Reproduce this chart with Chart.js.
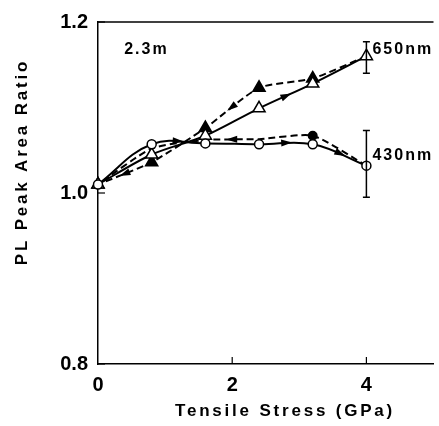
<!DOCTYPE html>
<html>
<head>
<meta charset="utf-8">
<script src="https://cdn.jsdelivr.net/npm/chart.js@4.4.0/dist/chart.umd.min.js"></script>
<style>
html, body { margin: 0; padding: 0; background: #fff; overflow: hidden; }
#wrap { width: 442px; height: 426px; }
</style>
</head>
<body>
<div id="wrap"><canvas id="chart" width="442" height="426"></canvas></div>
<script>
// tensile stress steps (GPa), loading then unloading
var stressUp = [0, 0.8, 1.6, 2.4, 3.2, 4.0];
var stressDown = [4.0, 3.2, 2.4, 1.6, 0.8, 0];

// 650nm peak: loading (open triangles) / unloading (filled triangles)
var r650Up = [1.010, 1.045, 1.067, 1.099, 1.128, 1.160];
var r650Down = [1.160, 1.134, 1.123, 1.076, 1.036, 1.010];

// 430nm peak: loading (open circles) / unloading (dashed, filled circle at 3.2)
var r430Up = [1.010, 1.057, 1.058, 1.057, 1.057, 1.032];
var r430Down = [1.032, 1.067, 1.063, 1.062, 1.052, 1.010];

// error bars at 4 GPa (650nm, 430nm)
var errStress = [4.0, 4.0];
var errLow = [1.140, 0.995];
var errHigh = [1.177, 1.073];

var xTicks = [0, 2, 4];
var yTicks = [0.8, 1.0, 1.2];

var FONT = '"Liberation Sans", Arial, sans-serif';

function xy(xs, ys) {
    return xs.map(function (x, i) { return { x: x, y: ys[i] }; });
}

// draws inner ticks, top frame, error bars, arrowheads, labels and axis titles
var decor = {
    id: 'decor',
    afterDatasetsDraw(chart) {
        var ctx = chart.ctx;
        var sx = chart.scales.x, sy = chart.scales.y;
        var area = chart.chartArea;
        ctx.save();
        ctx.strokeStyle = '#000';
        ctx.fillStyle = '#000';

        // top frame line
        ctx.lineWidth = 1.5;
        ctx.beginPath();
        ctx.moveTo(area.left, area.top);
        ctx.lineTo(area.right, area.top);
        ctx.stroke();

        // inward ticks
        ctx.lineWidth = 1.2;
        xTicks.forEach(function (v) {
            if (v === 0) return;
            var px = sx.getPixelForValue(v);
            ctx.beginPath();
            ctx.moveTo(px, area.bottom);
            ctx.lineTo(px, area.bottom - 7);
            ctx.stroke();
        });
        yTicks.forEach(function (v) {
            var py = sy.getPixelForValue(v);
            ctx.beginPath();
            ctx.moveTo(area.left, py);
            ctx.lineTo(area.left + 7, py);
            ctx.stroke();
        });

        // error bars
        ctx.lineWidth = 1.5;
        errStress.forEach(function (x, i) {
            var px = sx.getPixelForValue(x);
            var p1 = sy.getPixelForValue(errLow[i]);
            var p2 = sy.getPixelForValue(errHigh[i]);
            ctx.beginPath();
            ctx.moveTo(px, p1); ctx.lineTo(px, p2);
            ctx.moveTo(px - 3.5, p1); ctx.lineTo(px + 3.5, p1);
            ctx.moveTo(px - 3.5, p2); ctx.lineTo(px + 3.5, p2);
            ctx.stroke();
        });

        // arrowheads at the middle of chosen segments
        chart.data.datasets.forEach(function (ds, di) {
            if (!ds.arrows) return;
            var pts = chart.getDatasetMeta(di).data;
            ds.arrows.forEach(function (s) {
                var a = pts[s], b = pts[s + 1];
                var c1x = a.cp2x, c1y = a.cp2y, c2x = b.cp1x, c2y = b.cp1y;
                var mx = (a.x + 3 * c1x + 3 * c2x + b.x) / 8;
                var my = (a.y + 3 * c1y + 3 * c2y + b.y) / 8;
                var dx = b.x + c2x - c1x - a.x, dy = b.y + c2y - c1y - a.y;
                var ang = Math.atan2(dy, dx);
                ctx.save();
                ctx.translate(mx, my);
                ctx.rotate(ang);
                ctx.beginPath();
                ctx.moveTo(6, 0);
                ctx.lineTo(-5, -3.5);
                ctx.lineTo(-5, 3.5);
                ctx.closePath();
                ctx.fill();
                ctx.restore();
            });
        });

        // text labels
        ctx.letterSpacing = '2px';
        ctx.font = 'bold 16px ' + FONT;
        ctx.textAlign = 'left';
        ctx.textBaseline = 'middle';
        ctx.fillText('2.3m', sx.getPixelForValue(0.39), sy.getPixelForValue(1.168));
        ctx.fillText('650nm', sx.getPixelForValue(4.09), sy.getPixelForValue(1.168));
        ctx.fillText('430nm', sx.getPixelForValue(4.09), sy.getPixelForValue(1.044));

        // axis titles
        ctx.letterSpacing = '2.8px';
        ctx.font = 'bold 17px ' + FONT;
        ctx.textAlign = 'center';
        ctx.fillText('Tensile Stress (GPa)', 285, 411);
        ctx.translate(22, 162);
        ctx.rotate(-Math.PI / 2);
        ctx.fillText('PL Peak Area Ratio', 0, 0);
        ctx.restore();
    }
};

new Chart(document.getElementById('chart'), {
    type: 'line',
    data: {
        datasets: [
            {
                label: '430nm loading',
                data: xy(stressUp, r430Up),
                borderColor: '#000',
                borderWidth: 2,
                tension: 0.4,
                pointStyle: 'circle',
                pointRadius: 4.5,
                pointBorderWidth: 1.5,
                pointBackgroundColor: '#fff',
                pointBorderColor: '#000',
                arrows: [1, 3, 4]
            },
            {
                label: '650nm loading',
                data: xy(stressUp, r650Up),
                borderColor: '#000',
                borderWidth: 2,
                tension: 0.3,
                pointStyle: 'triangle',
                pointRadius: 7,
                pointBorderWidth: 1.5,
                pointBackgroundColor: '#fff',
                pointBorderColor: '#000',
                arrows: [3]
            },
            {
                label: '430nm unloading',
                data: xy(stressDown, r430Down),
                borderColor: '#000',
                borderWidth: 2,
                borderDash: [7, 4],
                tension: 0.2,
                pointStyle: 'circle',
                pointRadius: [0, 4, 0, 0, 0, 0],
                pointBackgroundColor: '#000',
                pointBorderColor: '#000',
                arrows: [2]
            },
            {
                label: '650nm unloading',
                data: xy(stressDown, r650Down),
                borderColor: '#000',
                borderWidth: 2,
                borderDash: [7, 4],
                tension: 0.2,
                pointStyle: 'triangle',
                pointRadius: [0, 6.5, 6.5, 6.5, 6.5, 6.5],
                pointBackgroundColor: '#000',
                pointBorderColor: '#000',
                arrows: [2, 4]
            }
        ]
    },
    options: {
        responsive: false,
        animation: false,
        clip: false,
        layout: { padding: { top: 18, right: 0, left: 0, bottom: 0 } },
        plugins: {
            legend: { display: false },
            tooltip: { enabled: false }
        },
        scales: {
            x: {
                type: 'linear',
                min: 0,
                max: 5,
                afterBuildTicks: function (s) { s.ticks = xTicks.map(function (v) { return { value: v }; }); },
                afterFit: function (s) { s.height = 62; },
                grid: { drawOnChartArea: false, drawTicks: false },
                border: { display: true, color: '#000', width: 1.5 },
                ticks: {
                    padding: 9,
                    color: '#000',
                    font: { family: FONT, size: 20, weight: 'bold' }
                }
            },
            y: {
                min: 0.8,
                max: 1.2,
                afterBuildTicks: function (s) { s.ticks = yTicks.map(function (v) { return { value: v }; }); },
                afterFit: function (s) { s.width = 98; },
                grid: { drawOnChartArea: false, drawTicks: false },
                border: { display: true, color: '#000', width: 1.5 },
                ticks: {
                    padding: 10,
                    color: '#000',
                    font: { family: FONT, size: 20, weight: 'bold' },
                    callback: function (v) { return v.toFixed(1); }
                }
            }
        }
    },
    plugins: [decor]
});
</script>
</body>
</html>
